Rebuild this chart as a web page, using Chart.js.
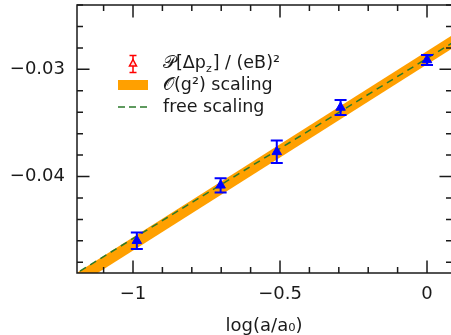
<!DOCTYPE html>
<html>
<head>
<meta charset="utf-8">
<script src="https://cdn.jsdelivr.net/npm/chart.js@4"></script>
<style>
html,body{margin:0;padding:0;background:#fff;}
#wrap{width:451px;height:335px;position:relative;}
</style>
</head>
<body>
<div id="wrap"><canvas id="c" width="451" height="335"></canvas></div>
<script>
// ---- data ----
const logA = [-0.987, -0.702, -0.511, -0.294, 0.0];
const pValues = [-0.04599, -0.04082, -0.0377, -0.03356, -0.02913];
const pErrors = [0.00077, 0.00067, 0.00105, 0.0007, 0.00047];

const fitX = [-1.25, 0.1];
const bandUpper = [-0.05001, -0.02657];
const bandLower = [-0.05125, -0.02781];
const freeLine = [-0.04999, -0.02730];

const xTickValues = [-1, -0.5, 0];
const yTickValues = [-0.04, -0.03];
const xTitle = 'log(a/a\u2080)';
const legendLabels = ['\uD835\uDCAB[\u0394p', 'z', '] / (eB)\u00B2', '\uD835\uDCAA(g\u00B2) scaling', 'free scaling'];

const ORANGE = '#ffa000';
const GREEN = '#2a7a2a';
const BLUE = '#0000ff';
const INK = '#1a1a1a';
const FONT = '"DejaVu Sans", sans-serif';

function fmt(v){
  const s = Math.abs(v) < 1e-12 ? '0' : String(+v.toFixed(3));
  return s.replace('-', '\u2212');
}

function noPad(s){ s.paddingTop = 0; s.paddingBottom = 0; s.paddingLeft = 0; s.paddingRight = 0; }

const framePlugin = {
  id: 'frame',
  afterDraw(chart){
    const ctx = chart.ctx;
    const x = chart.scales.x, y = chart.scales.y;
    const a = chart.chartArea;
    ctx.save();
    ctx.strokeStyle = INK;
    ctx.lineWidth = 1.5;
    ctx.strokeRect(a.left, a.top, a.right - a.left + 1.5, a.bottom - a.top);
    for (let i = -12; i <= 1; i++) {
      const v = i / 10;
      if (v < x.min || v > x.max) continue;
      const px = x.getPixelForValue(v);
      const major = (i % 5 === 0);
      const len = major ? 12.5 : 6;
      ctx.beginPath();
      ctx.moveTo(px, a.bottom); ctx.lineTo(px, a.bottom - len);
      ctx.moveTo(px, a.top); ctx.lineTo(px, a.top + len);
      ctx.stroke();
    }
    for (let i = -25; i <= -12; i++) {
      const v = i * 0.002;
      if (v < y.min - 1e-9 || v > y.max + 1e-9) continue;
      const py = y.getPixelForValue(v);
      const major = (i % 5 === 0);
      const len = major ? 12.5 : 6;
      ctx.beginPath();
      ctx.moveTo(a.left, py); ctx.lineTo(a.left + len, py);
      ctx.moveTo(a.right + 1, py); ctx.lineTo(a.right + 1 - len, py);
      ctx.stroke();
    }
    ctx.restore();
  },
  afterDatasetsDraw(chart){
    const ctx = chart.ctx;
    const x = chart.scales.x, y = chart.scales.y;
    ctx.save();
    ctx.strokeStyle = BLUE;
    ctx.lineWidth = 2;
    logA.forEach((xv, i) => {
      const px = x.getPixelForValue(xv);
      const p1 = y.getPixelForValue(pValues[i] + pErrors[i]);
      const p2 = y.getPixelForValue(pValues[i] - pErrors[i]);
      ctx.beginPath();
      ctx.moveTo(px, p1); ctx.lineTo(px, p2);
      ctx.moveTo(px - 6, p1); ctx.lineTo(px + 6, p1);
      ctx.moveTo(px - 6, p2); ctx.lineTo(px + 6, p2);
      ctx.stroke();
    });
    // legend
    ctx.fillStyle = INK;
    ctx.textBaseline = 'middle';
    ctx.textAlign = 'left';
    const tx = 163;
    ctx.strokeStyle = '#ff0000';
    ctx.lineWidth = 1.5;
    ctx.beginPath();
    ctx.moveTo(133, 55.5); ctx.lineTo(133, 72.5);
    ctx.moveTo(129.5, 55.5); ctx.lineTo(136.5, 55.5);
    ctx.moveTo(129.5, 72.5); ctx.lineTo(136.5, 72.5);
    ctx.stroke();
    ctx.beginPath();
    ctx.moveTo(133, 59.5); ctx.lineTo(136.5, 66); ctx.lineTo(129.5, 66); ctx.closePath();
    ctx.fillStyle = '#ffdddd'; ctx.fill(); ctx.stroke();
    ctx.fillStyle = INK;
    const big = '17.5px ' + FONT;
    ctx.font = big;
    let cx = tx;
    ctx.fillText(legendLabels[0], cx, 63);
    cx += ctx.measureText(legendLabels[0]).width;
    ctx.font = '11px ' + FONT;
    ctx.fillText(legendLabels[1], cx, 69);
    cx += ctx.measureText(legendLabels[1]).width + 1;
    ctx.font = big;
    ctx.fillText(legendLabels[2], cx, 63);
    ctx.fillStyle = ORANGE;
    ctx.fillRect(118, 80, 30, 10);
    ctx.fillStyle = INK;
    ctx.fillText(legendLabels[3], tx, 85.5);
    ctx.strokeStyle = GREEN;
    ctx.lineWidth = 1.5;
    ctx.setLineDash([7, 4]);
    ctx.beginPath(); ctx.moveTo(118, 107); ctx.lineTo(148, 107); ctx.stroke();
    ctx.setLineDash([]);
    ctx.fillText(legendLabels[4], tx, 107);
    ctx.restore();
  }
};

const ctx = document.getElementById('c').getContext('2d');
new Chart(ctx, {
  type: 'scatter',
  data: {
    datasets: [
      {
        label: 'P',
        data: logA.map((v, i) => ({x: v, y: pValues[i]})),
        pointStyle: 'triangle',
        pointRadius: 5.5,
        backgroundColor: BLUE,
        borderColor: BLUE,
        borderWidth: 1,
        showLine: false,
        clip: false,
        order: 0
      },
      {
        label: 'free',
        data: fitX.map((v, i) => ({x: v, y: freeLine[i]})),
        showLine: true,
        borderColor: GREEN,
        borderWidth: 1.5,
        borderDash: [7, 5],
        pointRadius: 0,
        order: 1
      },
      {
        label: 'bandU',
        data: fitX.map((v, i) => ({x: v, y: bandUpper[i]})),
        showLine: true,
        borderWidth: 0,
        borderColor: ORANGE,
        backgroundColor: ORANGE,
        pointRadius: 0,
        fill: 3,
        order: 2
      },
      {
        label: 'bandL',
        data: fitX.map((v, i) => ({x: v, y: bandLower[i]})),
        showLine: true,
        borderWidth: 0,
        borderColor: ORANGE,
        pointRadius: 0,
        fill: false,
        order: 3
      }
    ]
  },
  options: {
    responsive: false,
    animation: false,
    devicePixelRatio: 1,
    layout: {autoPadding: false, padding: {top: 5, right: 0, left: 0, bottom: 0}},
    plugins: {legend: {display: false}, tooltip: {enabled: false}},
    scales: {
      x: {
        type: 'linear',
        min: -1.1905,
        max: 0.0816,
        grid: {display: false, drawTicks: false},
        border: {display: false},
        afterBuildTicks(s){ s.ticks = xTickValues.map(v => ({value: v})); },
        afterFit(s){ s.height = 62; noPad(s); },
        ticks: {
          font: {family: FONT, size: 18},
          color: INK,
          padding: 11,
          maxRotation: 0,
          callback: (v) => fmt(v)
        },
        title: {
          display: true,
          text: xTitle,
          font: {family: FONT, size: 18},
          color: INK,
          padding: {top: 0, bottom: -2}
        }
      },
      y: {
        type: 'linear',
        min: -0.049,
        max: -0.024,
        grid: {display: false, drawTicks: false},
        border: {display: false},
        afterBuildTicks(s){ s.ticks = yTickValues.map(v => ({value: v})); },
        afterFit(s){ s.width = 77; noPad(s); },
        ticks: {
          font: {family: FONT, size: 18},
          color: INK,
          padding: 12,
          callback: (v) => fmt(v)
        }
      }
    }
  },
  plugins: [framePlugin]
});
</script>
</body>
</html>
